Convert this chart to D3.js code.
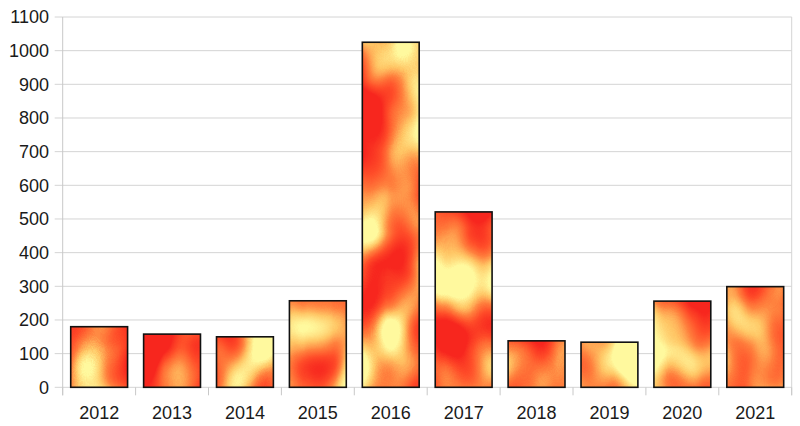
<!DOCTYPE html>
<html>
<head>
<meta charset="utf-8">
<script src="https://cdn.jsdelivr.net/npm/d3@7"></script>
<style>
html,body{margin:0;padding:0;background:#fff;}
svg{display:block;}
text{font-family:"Liberation Sans",Arial,sans-serif;fill:#1a1a1a;}
</style>
</head>
<body>
<svg id="chart" width="800" height="426"></svg>
<script>
const categories = ["2012","2013","2014","2015","2016","2017","2018","2019","2020","2021"];
const values = [180, 158, 150, 257, 1025, 521, 138, 134, 256, 299];
const yTicks = [0,100,200,300,400,500,600,700,800,900,1000,1100];

const W = 800, H = 426;
const m = {left: 62.7, right: 800-791.7, top: 17, bottom: 426-387.3};
const svg = d3.select("#chart");

const x = d3.scaleBand().domain(categories).range([m.left, W - m.right]).paddingInner(0.22).paddingOuter(0.11);
const xb = d3.scaleBand().domain(categories).range([m.left, W - m.right]);
const y = d3.scaleLinear().domain([0, 1100]).range([H - m.bottom, m.top]);

const defs = svg.append("defs");
const f = defs.append("filter").attr("id","fire")
  .attr("x",0).attr("y",0).attr("width",1).attr("height",1)
  .attr("color-interpolation-filters","sRGB");
f.append("feTurbulence").attr("type","fractalNoise").attr("baseFrequency","0.018 0.013")
  .attr("numOctaves",2).attr("seed",11).attr("result","n");
f.append("feColorMatrix").attr("in","n").attr("type","matrix")
  .attr("values","2.6 0 0 0 -0.8  2.6 0 0 0 -0.8  2.6 0 0 0 -0.8  0 0 0 0 1").attr("result","g");
const ct = f.append("feComponentTransfer").attr("in","g").attr("result","c");
ct.append("feFuncR").attr("type","table").attr("tableValues","0.97 1 1 1 1");
ct.append("feFuncG").attr("type","table").attr("tableValues","0.15 0.3 0.5 0.78 0.98");
ct.append("feFuncB").attr("type","table").attr("tableValues","0.12 0.16 0.24 0.4 0.62");
f.append("feComposite").attr("in","c").attr("in2","SourceGraphic").attr("operator","in");

// gridlines
svg.append("g").selectAll("line").data(yTicks).join("line")
  .attr("x1", m.left - 8).attr("x2", W - m.right)
  .attr("y1", d => y(d)).attr("y2", d => y(d))
  .attr("stroke", "#d4d4d4").attr("stroke-width", 1);

// vertical axis lines
svg.append("line").attr("x1", m.left).attr("x2", m.left)
  .attr("y1", m.top).attr("y2", y(0) + 8).attr("stroke", "#c8c8c8");
svg.append("line").attr("x1", W - m.right).attr("x2", W - m.right)
  .attr("y1", m.top).attr("y2", y(0) + 8).attr("stroke", "#d4d4d4");

// x category ticks
const bounds = categories.map(c => xb(c)).concat([W - m.right]);
svg.append("g").selectAll("line").data(bounds).join("line")
  .attr("x1", d => d).attr("x2", d => d)
  .attr("y1", y(0)).attr("y2", y(0) + 8)
  .attr("stroke", "#c8c8c8");

// y labels
svg.append("g").selectAll("text").data(yTicks).join("text")
  .attr("x", 49).attr("y", d => y(d)).attr("dy", "0.35em")
  .attr("text-anchor", "end").attr("font-size", 18)
  .text(d => d);

// x labels
svg.append("g").selectAll("text").data(categories).join("text")
  .attr("x", d => xb(d) + xb.bandwidth()/2).attr("y", 419)
  .attr("text-anchor", "middle").attr("font-size", 18)
  .text(d => d);

// bars
const bars = svg.append("g");
bars.selectAll("rect.fill").data(values).join("rect").attr("class","fill")
  .attr("x", (d,i) => x(categories[i])).attr("width", x.bandwidth())
  .attr("y", d => y(d)).attr("height", d => y(0) - y(d))
  .attr("fill", "#f00").attr("filter", "url(#fire)");
bars.selectAll("rect.edge").data(values).join("rect").attr("class","edge")
  .attr("x", (d,i) => x(categories[i])).attr("width", x.bandwidth())
  .attr("y", d => y(d)).attr("height", d => y(0) - y(d))
  .attr("fill", "none").attr("stroke", "#111").attr("stroke-width", 1.6);
</script>
</body>
</html>
